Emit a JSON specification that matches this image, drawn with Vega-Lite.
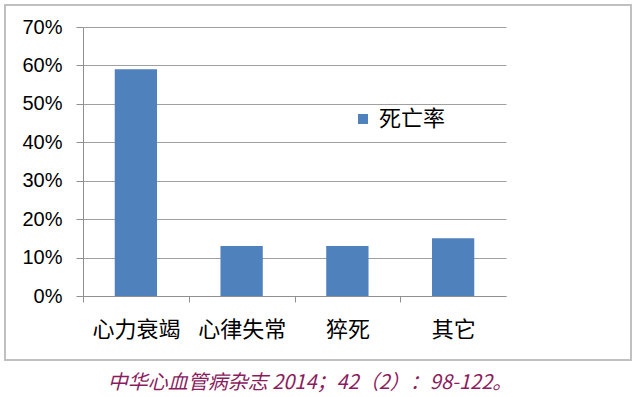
{
  "$schema": "https://vega.github.io/schema/vega-lite/v6.json",
  "width": 626,
  "height": 355,
  "autosize": {"type": "none"},
  "padding": {"left": 5, "top": 5, "right": 7, "bottom": 37},
  "background": "white",
  "config": {
    "view": {"stroke": "#c0c0c0", "strokeWidth": 2},
    "font": "Noto Sans CJK SC"
  },
  "title": {
    "text": "中华心血管病杂志 2014；42（2）：98-122。",
    "orient": "bottom",
    "anchor": "middle",
    "frame": "group",
    "offset": 13,
    "dx": -8,
    "font": "Noto Sans CJK SC",
    "fontStyle": "italic",
    "fontWeight": "normal",
    "fontSize": 20,
    "color": "#8B1C5E"
  },
  "data": {
    "values": [
      {"cause": "心力衰竭", "rate": 0.59, "series": "死亡率"},
      {"cause": "心律失常", "rate": 0.13, "series": "死亡率"},
      {"cause": "猝死", "rate": 0.13, "series": "死亡率"},
      {"cause": "其它", "rate": 0.15, "series": "死亡率"}
    ]
  },
  "mark": {"type": "bar"},
  "encoding": {
    "x": {
      "field": "cause",
      "type": "nominal",
      "sort": null,
      "scale": {"range": [78, 501], "paddingInner": 0.6, "paddingOuter": 0.3},
      "axis": {
        "title": null,
        "orient": "bottom",
        "offset": -64,
        "labelAngle": 0,
        "labelFont": "Noto Sans CJK SC",
        "labelFontSize": 22,
        "labelColor": "black",
        "labelPadding": 17,
        "domainColor": "#909090",
        "tickColor": "#909090",
        "tickSize": 6,
        "bandPosition": 0,
        "tickOffset": -31.7,
        "labelOffset": 31.7,
        "grid": false
      }
    },
    "y": {
      "field": "rate",
      "type": "quantitative",
      "scale": {"domain": [0, 0.7], "range": [291, 22], "nice": false, "zero": true},
      "axis": {
        "title": null,
        "orient": "left",
        "offset": -78,
        "values": [0, 0.1, 0.2, 0.3, 0.4, 0.5, 0.6, 0.7],
        "format": ".0%",
        "labelFont": "Liberation Sans",
        "labelFontSize": 20,
        "labelColor": "black",
        "labelPadding": 14,
        "domainColor": "#909090",
        "tickColor": "#909090",
        "tickSize": 7,
        "grid": true,
        "gridColor": "#a0a0a0",
        "gridWidth": 1
      }
    },
    "color": {
      "field": "series",
      "type": "nominal",
      "scale": {"range": ["#4F81BD"]},
      "legend": {
        "title": null,
        "orient": "none",
        "legendX": 347,
        "legendY": 103,
        "padding": 0,
        "symbolType": "square",
        "symbolSize": 100,
        "symbolStrokeWidth": 0,
        "labelFont": "Noto Sans CJK SC",
        "labelFontSize": 22,
        "labelColor": "black",
        "labelOffset": 5
      }
    }
  }
}
